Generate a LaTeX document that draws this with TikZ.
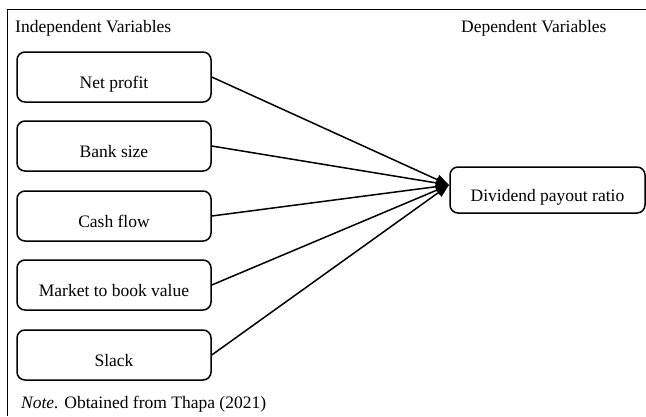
\documentclass[tikz,border=0pt]{standalone}
\usepackage{fontspec}
\setmainfont{Liberation Serif}
\usetikzlibrary{arrows.meta,calc}
\begin{document}
\begin{tikzpicture}[x=1pt,y=-1pt,
  txt/.style={font=\fontsize{17.5}{21}\selectfont, inner sep=0pt},
  var/.style={draw=black, line width=1.5pt, rounded corners=8pt, inner sep=0pt,
    font=\fontsize{17.5}{21}\selectfont, text height=26pt, text depth=4pt,
    minimum width=194pt, minimum height=50pt},
  dep/.style={var, minimum width=195pt, minimum height=46pt},
  link/.style={line width=1.5pt, -{Triangle[length=13pt,width=10pt]}},
  frame/.style={line width=1.2pt}]
\useasboundingbox (0,0) rectangle (646,416);
% frame
\coordinate (ftl) at (7.5,9.5);
\coordinate (ftr) at (646,9.5);
\coordinate (fbl) at (7.5,416);
\draw[frame] (ftr) -- (ftl) -- (fbl);
% headings
\node[txt, anchor=base west] (ind) at (15,32) {Independent Variables};
\node[txt, anchor=base west] (depv) at (461,32) {Dependent Variables};
% boxes
\node[var] (np) at (114,77) {Net profit};
\node[var] (bs) at (114,146) {Bank size};
\node[var] (cf) at (114,216) {Cash flow};
\node[var] (mb) at (114,285) {Market to book value};
\node[var] (sl) at (114,355) {Slack};
\node[dep] (dpr) at (547.5,190) {Dividend payout ratio};
\coordinate (tip) at (449,185);
% connectors
\foreach \s in {np,bs,cf,mb,sl}
  \draw[link] (\s.east) -- (tip);
% note
\node[txt, anchor=base west] (note) at (21,408) {\textit{Note.} Obtained from Thapa (2021)};
\end{tikzpicture}
\end{document}
